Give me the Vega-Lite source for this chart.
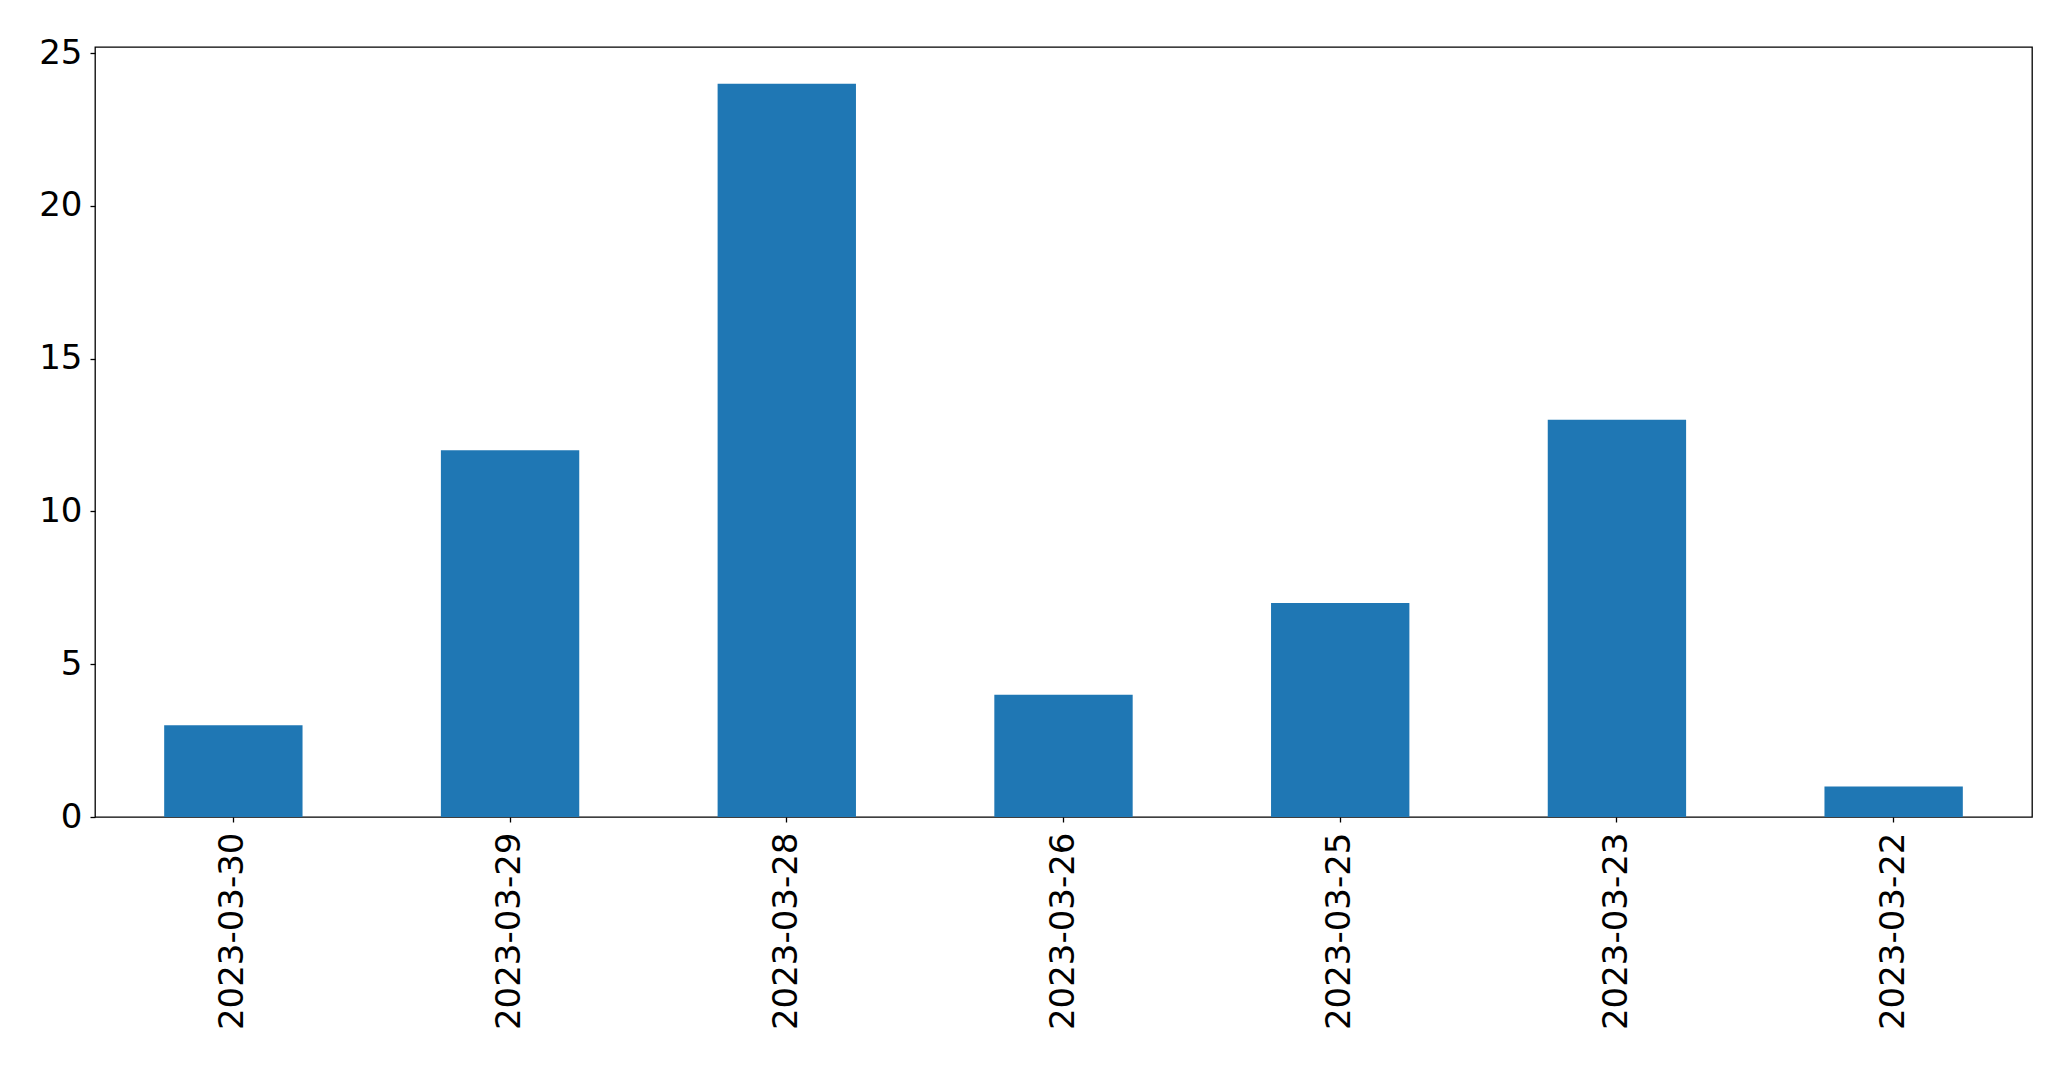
{
  "$schema": "https://vega.github.io/schema/vega-lite/v6.json",
  "autosize": "none",
  "width": 1937,
  "height": 770,
  "padding": {"left": 95, "top": 47, "right": 39, "bottom": 252},
  "background": "white",
  "config": {
    "view": {"stroke": "black", "strokeWidth": 1.3},
    "font": "DejaVu Sans"
  },
  "data": {
    "values": [
      {"date": "2023-03-30", "count": 3},
      {"date": "2023-03-29", "count": 12},
      {"date": "2023-03-28", "count": 24},
      {"date": "2023-03-26", "count": 4},
      {"date": "2023-03-25", "count": 7},
      {"date": "2023-03-23", "count": 13},
      {"date": "2023-03-22", "count": 1}
    ]
  },
  "mark": {"type": "bar", "color": "#1f77b4"},
  "encoding": {
    "x": {
      "field": "date",
      "type": "nominal",
      "sort": null,
      "scale": {"paddingInner": 0.5, "paddingOuter": 0.25},
      "axis": {
        "title": null,
        "labelAngle": -90,
        "labelFontSize": 34,
        "labelLimit": 500,
        "labelColor": "black",
        "labelFont": "DejaVu Sans",
        "labelPadding": 10,
        "tickSize": 5,
        "tickWidth": 1.3,
        "tickColor": "black",
        "domain": false,
        "grid": false
      }
    },
    "y": {
      "field": "count",
      "type": "quantitative",
      "scale": {"domain": [0, 25.2], "nice": false, "zero": true},
      "axis": {
        "title": null,
        "values": [0, 5, 10, 15, 20, 25],
        "labelFontSize": 34,
        "labelColor": "black",
        "labelFont": "DejaVu Sans",
        "labelPadding": 8,
        "tickSize": 5,
        "tickWidth": 1.3,
        "tickColor": "black",
        "domain": false,
        "grid": false
      }
    }
  }
}
